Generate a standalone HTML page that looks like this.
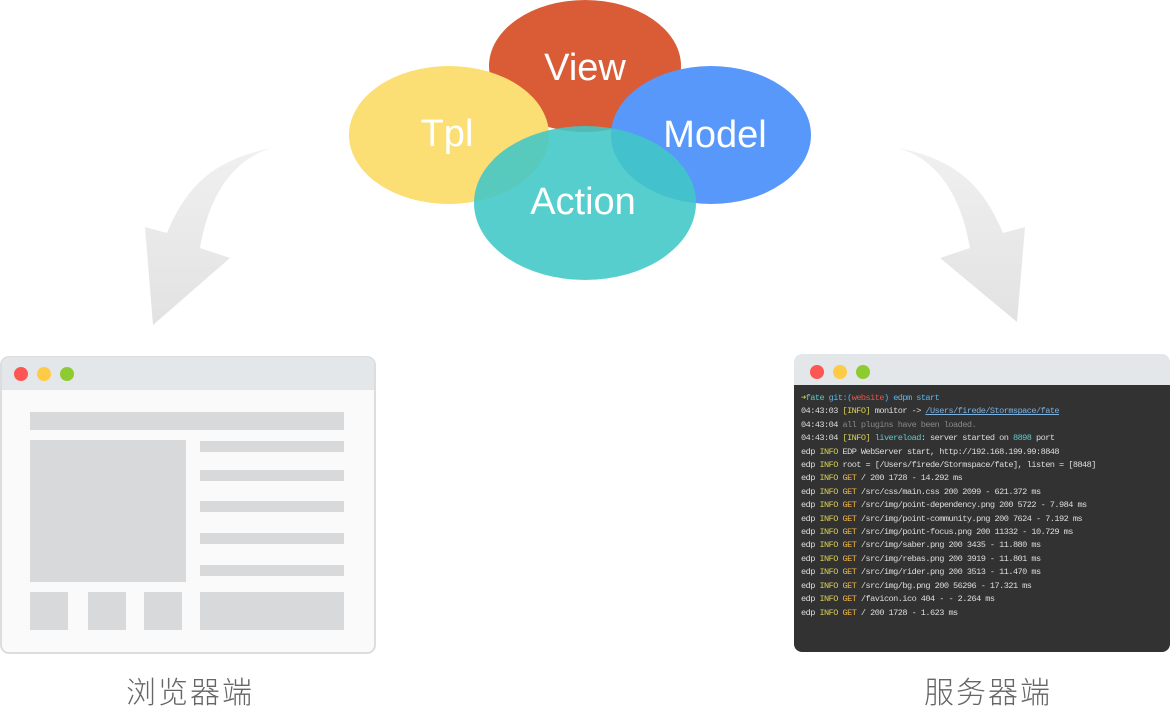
<!DOCTYPE html>
<html><head><meta charset="utf-8"><style>
body{margin:0;width:1170px;height:720px;background:#fff;position:relative;overflow:hidden;font-family:"Liberation Sans","Noto Sans CJK SC",sans-serif}
.term{position:absolute;left:801px;top:392px;font-family:"Liberation Mono",monospace;font-size:8.6px;letter-spacing:-0.55px;line-height:13.4px;color:#ddd;white-space:pre}
.y{color:#d8cf5a}.o{color:#f0b44a}.g{color:#888}.c{color:#5fc9c9}.b{color:#58b8f0}.r{color:#e0584a}.u{color:#7cb2e0;text-decoration:underline}
.lbl{position:absolute;top:668px;font-size:30px;color:#666;font-weight:300;letter-spacing:2px}
</style></head><body>
<svg width="1170" height="720" style="position:absolute;left:0;top:0">
<defs><linearGradient id="ag" x1="0" y1="0" x2="0" y2="1"><stop offset="0" stop-color="#f0f0f0"/><stop offset="1" stop-color="#e2e2e3"/></linearGradient></defs>
<path d="M272,148 C230,160 208,200 200,248 L230,258 L153,325 L145,227 L167,233 C185,190 210,160 272,148 Z" fill="url(#ag)"/>
<path d="M898,148 C940,160 962,200 970,248 L940,258 L1017,322 L1025,227 L1003,233 C985,190 960,160 898,148 Z" fill="url(#ag)"/>
<ellipse cx="585" cy="66" rx="96" ry="66" fill="#d95c36"/>
<ellipse cx="449" cy="135" rx="100" ry="69" fill="#fbde74"/>
<ellipse cx="711" cy="135" rx="100" ry="69" fill="#5898fb"/>
<ellipse cx="585" cy="203" rx="111" ry="77" fill="#40c7c7" opacity="0.88"/>
<g fill="#fff" font-family="Liberation Sans, sans-serif" font-size="38" text-anchor="middle">
<text x="585" y="80">View</text><text x="447" y="146">Tpl</text><text x="715" y="147">Model</text><text x="583" y="214">Action</text></g>
<rect x="1" y="357" width="374" height="296" rx="8" fill="#fafafa" stroke="#ddd" stroke-width="2"/>
<path d="M2,390 V365 a8,8 0 0 1 8,-8 H366 a8,8 0 0 1 8,8 V390 Z" fill="#e4e7ea"/>
<circle cx="21" cy="374" r="7" fill="#fc5753"/><circle cx="44" cy="374" r="7" fill="#fdcb45"/><circle cx="67" cy="374" r="7" fill="#8ecb31"/>
<g fill="#d8d9db"><rect x="30" y="412" width="314" height="18"/><rect x="30" y="440" width="156" height="142"/>
<rect x="200" y="441" width="144" height="11"/><rect x="200" y="470" width="144" height="11"/><rect x="200" y="501" width="144" height="11"/><rect x="200" y="533" width="144" height="11"/><rect x="200" y="565" width="144" height="11"/>
<rect x="30" y="592" width="38" height="38"/><rect x="88" y="592" width="38" height="38"/><rect x="144" y="592" width="38" height="38"/><rect x="200" y="592" width="144" height="38"/></g>
<path d="M794,385 V362 a8,8 0 0 1 8,-8 H1162 a8,8 0 0 1 8,8 V385 Z" fill="#e4e7ea"/>
<path d="M794,385 H1170 V644 a8,8 0 0 1 -8,8 H802 a8,8 0 0 1 -8,-8 Z" fill="#323232"/>
<circle cx="817" cy="372" r="7" fill="#fc5753"/><circle cx="840" cy="372" r="7" fill="#fdcb45"/><circle cx="863" cy="372" r="7" fill="#8ecb31"/>
</svg>
<div class="term"><span class="y">➜</span><span class="c">fate</span> <span class="b">git:(</span><span class="r">website</span><span class="b">)</span> <span class="b">edpm start</span>
04:43:03 <span class="y">[INFO]</span> monitor -&gt; <span class="u">/Users/firede/Stormspace/fate</span>
04:43:04 <span class="g">all plugins have been loaded.</span>
04:43:04 <span class="y">[INFO]</span> <span class="c">livereload</span>: server started on <span class="c">8898</span> port
edp <span class="y">INFO</span> EDP WebServer start, http://192.168.199.99:8848
edp <span class="y">INFO</span> root = [/Users/firede/Stormspace/fate], listen = [8848]
edp <span class="y">INFO</span> <span class="o">GET</span> / 200 1728 - 14.292 ms
edp <span class="y">INFO</span> <span class="o">GET</span> /src/css/main.css 200 2099 - 621.372 ms
edp <span class="y">INFO</span> <span class="o">GET</span> /src/img/point-dependency.png 200 5722 - 7.984 ms
edp <span class="y">INFO</span> <span class="o">GET</span> /src/img/point-community.png 200 7624 - 7.192 ms
edp <span class="y">INFO</span> <span class="o">GET</span> /src/img/point-focus.png 200 11332 - 10.729 ms
edp <span class="y">INFO</span> <span class="o">GET</span> /src/img/saber.png 200 3435 - 11.880 ms
edp <span class="y">INFO</span> <span class="o">GET</span> /src/img/rebas.png 200 3919 - 11.801 ms
edp <span class="y">INFO</span> <span class="o">GET</span> /src/img/rider.png 200 3513 - 11.470 ms
edp <span class="y">INFO</span> <span class="o">GET</span> /src/img/bg.png 200 56296 - 17.321 ms
edp <span class="y">INFO</span> <span class="o">GET</span> /favicon.ico 404 - - 2.264 ms
edp <span class="y">INFO</span> <span class="o">GET</span> / 200 1728 - 1.623 ms</div>
<div class="lbl" style="left:126px">浏览器端</div>
<div class="lbl" style="left:924px">服务器端</div>
</body></html>
